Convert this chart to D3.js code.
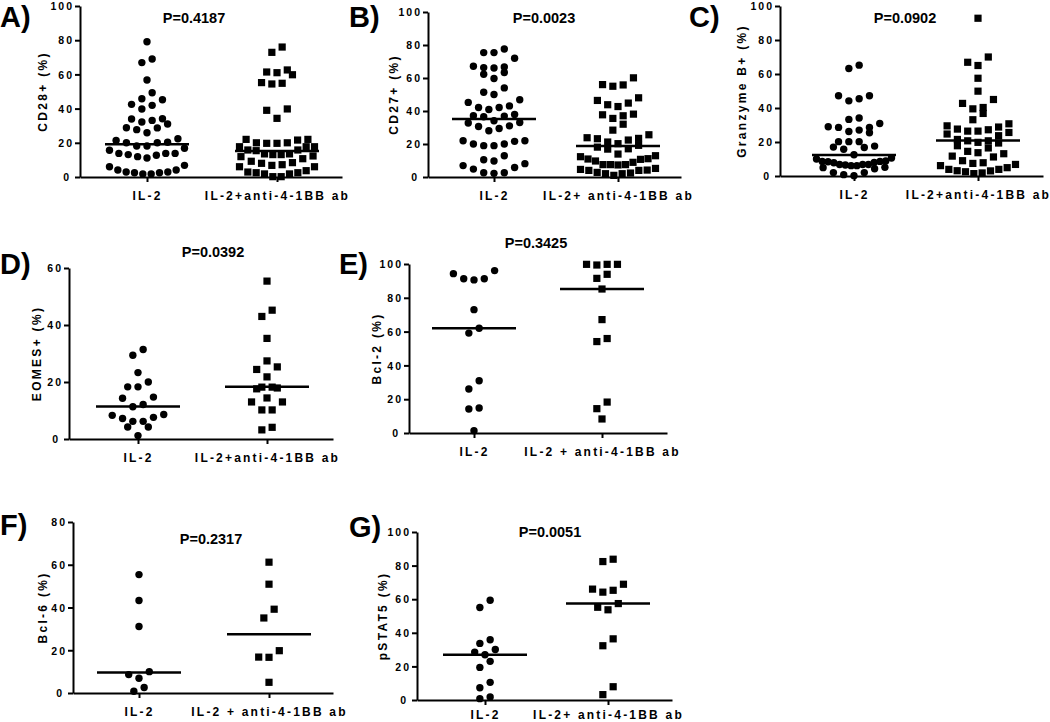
<!DOCTYPE html>
<html>
<head>
<meta charset="utf-8">
<script src="https://cdn.jsdelivr.net/npm/d3@7"></script>
<style>
  body { margin: 0; background: #fff; }
  svg { display: block; font-family: "Liberation Sans", Arial, sans-serif; }
  .tick text { font-size: 10.5px; font-weight: bold; letter-spacing: 2px; fill: #000; }
</style>
</head>
<body>
<div id="chart"></div>
<script>
/* -----------------    DATA     ------------------ */

const yTicks100 = [0, 20, 40, 60, 80, 100];
const yTicks80 = [0, 20, 40, 60, 80];
const yTicks60 = [0, 20, 40, 60];

// A) CD28+
const cd28IL2 = [79.1, 69, 66.9, 56.7, 49.3, 45.8, 45.2, 42.5, 41.9, 39.8, 34.1, 33.9, 33.1, 32.2, 31, 28.8, 28.7, 27.7, 25.9, 22.4, 21.4, 20.3, 20, 20, 18.1, 18.1, 16.8, 15.6, 13.8, 13.8, 13.8, 13.1, 12.7, 11.9, 11.1, 6.8, 6, 4.1, 4.1, 2.9, 2.9, 2.5, 2.5, 1.8, 1.8];
const cd28Combo = [76, 72.9, 62.6, 61.4, 61, 59.8, 55.2, 54.8, 54.4, 39.8, 39, 34.3, 22, 22, 21.6, 20, 20, 19.7, 19.7, 17.7, 17.7, 17.7, 15.8, 15.8, 15.4, 13.5, 13.5, 13.1, 13.1, 12.3, 11.9, 10.7, 9.2, 8.4, 8, 7.2, 6.8, 6, 6, 3.7, 2.9, 2.5, 2.5, 1.8, 1.8, 0.2, 0.2];
const cd28Medians = [19.1, 15.2];

// B) CD27+
const cd27IL2 = [77.6, 75.4, 75.4, 72, 67.1, 66.7, 66.3, 66.1, 63.3, 62.3, 59.7, 54, 51.4, 50, 46.8, 45.2, 43.1, 42.1, 42.1, 40.9, 37.9, 37.1, 36.9, 36.5, 34.1, 33, 32.7, 31, 30.6, 29.4, 28, 22, 22, 21.6, 20, 20, 19, 19, 12.9, 10.5, 9.7, 8.1, 6.9, 5.8, 4.8, 2.6, 2.6, 2.2];
const cd27Combo = [60.1, 56, 55.8, 55, 48, 46.4, 44.8, 43.8, 42.7, 38.1, 37.7, 37.1, 35.5, 32, 28.4, 25.6, 23.8, 23.4, 23.2, 22.4, 21.2, 20.2, 19.2, 18.1, 17.1, 16.9, 13.9, 12.9, 12.3, 11.1, 10.9, 10.7, 9.7, 8.9, 7.5, 7.5, 7.5, 7.3, 5.2, 4.6, 4.2, 4, 4, 2.8, 2.4, 2, 2, 1];
const cd27Medians = [35.1, 18.8];

// C) Granzyme B+
const gzmIL2 = [65.2, 63.2, 47.2, 47.2, 45.4, 44.2, 34.1, 33.3, 30.9, 29, 28.6, 28.6, 27, 26.2, 25.4, 20.2, 20.2, 20.2, 17.6, 17, 16.8, 15.7, 12.5, 10.6, 10, 8.8, 8.6, 8.6, 8.4, 8, 7.8, 6.8, 6.8, 6.8, 6.5, 6.1, 6.1, 5.1, 4.9, 4.3, 2, 2, 0.8, 0.2];
const gzmCombo = [92.8, 70, 66.9, 65, 57.5, 49.9, 45, 42.7, 40.3, 39.5, 36.8, 33.1, 30.7, 29.5, 28.8, 27.6, 27.2, 26.4, 26.4, 25.6, 24.7, 23.7, 21.5, 20.7, 20.7, 19.8, 19.4, 17.8, 16.5, 14.5, 13.7, 13.1, 11.7, 11.2, 9, 7.8, 7.4, 6.8, 6.1, 4.9, 3.9, 3.9, 3.1, 3, 2.5, 1.8, 1.4];
const gzmMedians = [12.3, 20.9];

// D) EOMES+
const eomesIL2 = [31.4, 29.4, 23.3, 20, 18.3, 18.3, 14.7, 14.3, 12.1, 11.3, 8.6, 8.3, 7.6, 7.2, 6.2, 6.2, 4.2, 4.2, 1.2];
const eomesCombo = [55.4, 45.2, 43, 35.3, 27.4, 25.3, 24.4, 21.8, 18.2, 18.2, 17.9, 17.6, 14.4, 13, 13, 10.2, 10.2, 4.1, 3.2];
const eomesMedians = [11.4, 18.3];

// E) Bcl-2
const bcl2IL2 = [96.1, 94.3, 91.3, 91.3, 90.6, 73, 62, 59.1, 30.9, 26, 14.8, 14.2, 1.4];
const bcl2Combo = [99.8, 99.8, 99.8, 99.4, 93.9, 91.5, 85.2, 67.1, 55.9, 54.1, 18.3, 14.4, 8.3];
const bcl2Medians = [62, 85.2];

// F) Bcl-6
const bcl6IL2 = [55.4, 43.3, 31.1, 10, 8.6, 6.9, 2.6, 0.8];
const bcl6Combo = [61.2, 50.9, 39.2, 35.1, 19.8, 16.8, 16.7, 5];
const bcl6Medians = [9.6, 27.5];

// G) pSTAT5
const pstatIL2 = [59.4, 55.1, 35.9, 33.7, 30.1, 28.5, 26.9, 23, 19.4, 10.5, 7.3, 1.8, 0.8];
const pstatCombo = [83.8, 82.4, 68.9, 66, 65.3, 64.2, 57.4, 55.2, 53.7, 36.4, 32.3, 7.9, 3.2];
const pstatMedians = [26.9, 57.4];

const pValues = ['P=0.4187', 'P=0.0023', 'P=0.0902', 'P=0.0392', 'P=0.3425', 'P=0.2317', 'P=0.0051'];

/* -----------------    LAYOUT     ------------------ */

const settings = {
    width: 1050,
    height: 722,
    markerR: 3.7,
    square: 7.2,
    rowH: 10,       // points closer than this (px) share a row
    step: 10.3,     // horizontal spacing inside a row
    rowMax: 75,     // widest a row may get before points squeeze together
    medianHalf: 42,
    ink: '#000'
};

const panels = [
    { tag: 'A)', tagX: 0, tagY: 27, ax: 80, x1: 342, yBot: 177, yTop: 6, cats: [147, 277], ticks: yTicks100,
      pX: 194, pY: 23, labX: 47, catPad: 9, ylab: 'CD28+ (%)', names: ['IL-2', 'IL-2+anti-4-1BB ab'],
      groups: [cd28IL2, cd28Combo], medians: cd28Medians, p: pValues[0] },
    { tag: 'B)', tagX: 349, tagY: 27, ax: 428, x1: 681, yBot: 177, yTop: 12, cats: [494, 618], ticks: yTicks100,
      pX: 544, pY: 23, labX: 398, catPad: 9, ylab: 'CD27+ (%)', names: ['IL-2', 'IL-2+ anti-4-1BB ab'],
      groups: [cd27IL2, cd27Combo], medians: cd27Medians, p: pValues[1] },
    { tag: 'C)', tagX: 689, tagY: 27, ax: 780, x1: 1043, yBot: 176, yTop: 6, cats: [854, 978], ticks: yTicks100,
      pX: 905, pY: 23, labX: 746, catPad: 9, ylab: 'Granzyme B+ (%)', names: ['IL-2', 'IL-2+anti-4-1BB ab'],
      groups: [gzmIL2, gzmCombo], medians: gzmMedians, p: pValues[2] },
    { tag: 'D)', tagX: 0, tagY: 274, ax: 69, x1: 333, yBot: 439, yTop: 268, cats: [138, 267], ticks: yTicks60,
      pX: 213, pY: 257, labX: 41, catPad: 9, ylab: 'EOMES+ (%)', names: ['IL-2', 'IL-2+anti-4-1BB ab'],
      groups: [eomesIL2, eomesCombo], medians: eomesMedians, p: pValues[3] },
    { tag: 'E)', tagX: 339, tagY: 274, ax: 409, x1: 667, yBot: 433, yTop: 264, cats: [474, 602], ticks: yTicks100,
      pX: 536, pY: 248, labX: 381, catPad: 9, ylab: 'Bcl-2 (%)', names: ['IL-2', 'IL-2 + anti-4-1BB ab'],
      groups: [bcl2IL2, bcl2Combo], medians: bcl2Medians, p: pValues[4] },
    { tag: 'F)', tagX: 0, tagY: 535, ax: 73, x1: 333, yBot: 693, yTop: 522, cats: [139, 269], ticks: yTicks80,
      pX: 211, pY: 544, labX: 47, catPad: 9, ylab: 'Bcl-6 (%)', names: ['IL-2', 'IL-2 + anti-4-1BB ab'],
      groups: [bcl6IL2, bcl6Combo], medians: bcl6Medians, p: pValues[5] },
    { tag: 'G)', tagX: 349, tagY: 537, ax: 417, x1: 672, yBot: 700, yTop: 532, cats: [485, 608], ticks: yTicks100,
      pX: 550, pY: 537, labX: 387, catPad: 5, ylab: 'pSTAT5 (%)', names: ['IL-2', 'IL-2+ anti-4-1BB ab'],
      groups: [pstatIL2, pstatCombo], medians: pstatMedians, p: pValues[6] }
];

/* -----------------    LOGIC     ------------------ */

// Prism-like scatter: group sorted values into rows, then spread each row centre-out
function rowLayout(values, yScale) {
    const sorted = values.slice().sort((a, b) => a - b);
    const rows = [];
    sorted.forEach(v => {
        const row = rows[rows.length - 1];
        if (row && yScale(row[0]) - yScale(v) <= settings.rowH) row.push(v);
        else rows.push([v]);
    });

    const placed = [];
    rows.forEach(row => {
        const n = row.length;
        const step = n > 1 ? Math.min(settings.step, settings.rowMax / (n - 1)) : 0;
        // slot order from the centre outward, lowest values nearest the centre
        const slots = d3.range(n).map(i => i - (n - 1) / 2)
            .sort((a, b) => Math.abs(a) - Math.abs(b) || a - b);
        row.forEach((v, i) => placed.push({ v, y: yScale(v), off: slots[i] * step }));
    });
    return placed;
}

const svg = d3.select('#chart')
    .append('svg')
    .attr('width', settings.width)
    .attr('height', settings.height);

panels.forEach(pn => {
    const g = svg.append('g');
    const yMax = pn.ticks[pn.ticks.length - 1];

    const y = d3.scaleLinear().domain([0, yMax]).range([pn.yBot, pn.yTop]);

    // x scale: category 0 and 1 at the tick positions, range spans the whole axis line
    const span = pn.cats[1] - pn.cats[0];
    const x = d3.scaleLinear()
        .domain([-(pn.cats[0] - pn.ax) / span, 1 + (pn.x1 - pn.cats[1]) / span])
        .range([pn.ax, pn.x1]);

    const yAxis = d3.axisLeft(y)
        .tickValues(pn.ticks)
        .tickFormat(d3.format('d'))
        .tickSize(5)
        .tickSizeOuter(0)
        .tickPadding(1);

    const xAxis = d3.axisBottom(x)
        .tickValues([0, 1])
        .tickFormat(i => pn.names[i])
        .tickSize(5)
        .tickSizeOuter(0)
        .tickPadding(pn.catPad);

    const ya = g.append('g')
        .attr('transform', `translate(${pn.ax},0)`)
        .call(yAxis);

    ya.selectAll('.tick text').attr('dy', '0.36em');
    ya.selectAll('.tick').filter(d => d === 0).select('text').attr('dx', -3);

    const xa = g.append('g')
        .attr('transform', `translate(0,${pn.yBot})`)
        .call(xAxis);

    xa.selectAll('.tick text')
        .style('font-size', '12px')
        .style('letter-spacing', '2.2px');

    g.selectAll('.domain, .tick line')
        .attr('stroke', settings.ink)
        .attr('stroke-width', 2);

    // y label
    g.append('text')
        .attr('transform', `translate(${pn.labX},${(pn.yBot + pn.yTop) / 2}) rotate(-90)`)
        .attr('text-anchor', 'middle')
        .style('font-size', '12px')
        .style('font-weight', 'bold')
        .style('letter-spacing', '2.3px')
        .text(pn.ylab);

    // panel tag and p-value
    g.append('text')
        .attr('x', pn.tagX)
        .attr('y', pn.tagY)
        .style('font-size', '29px')
        .style('font-weight', 'bold')
        .text(pn.tag);

    g.append('text')
        .attr('x', pn.pX)
        .attr('y', pn.pY)
        .attr('text-anchor', 'middle')
        .style('font-size', '14.5px')
        .style('font-weight', 'bold')
        .text(pn.p);

    // points
    pn.groups.forEach((vals, gi) => {
        const pts = rowLayout(vals, y);
        const cx = x(gi);

        if (gi === 0) {
            g.append('g').selectAll('circle')
                .data(pts)
                .enter()
                .append('circle')
                .attr('cx', d => cx + d.off)
                .attr('cy', d => d.y)
                .attr('r', settings.markerR)
                .attr('fill', settings.ink);
        } else {
            const s = settings.square;
            g.append('g').selectAll('rect')
                .data(pts)
                .enter()
                .append('rect')
                .attr('x', d => cx + d.off - s / 2)
                .attr('y', d => d.y - s / 2)
                .attr('width', s)
                .attr('height', s)
                .attr('fill', settings.ink);
        }

        // median line
        g.append('line')
            .attr('x1', cx - settings.medianHalf)
            .attr('x2', cx + settings.medianHalf)
            .attr('y1', y(pn.medians[gi]))
            .attr('y2', y(pn.medians[gi]))
            .attr('stroke', settings.ink)
            .attr('stroke-width', 2.5);
    });
});
</script>
</body>
</html>
